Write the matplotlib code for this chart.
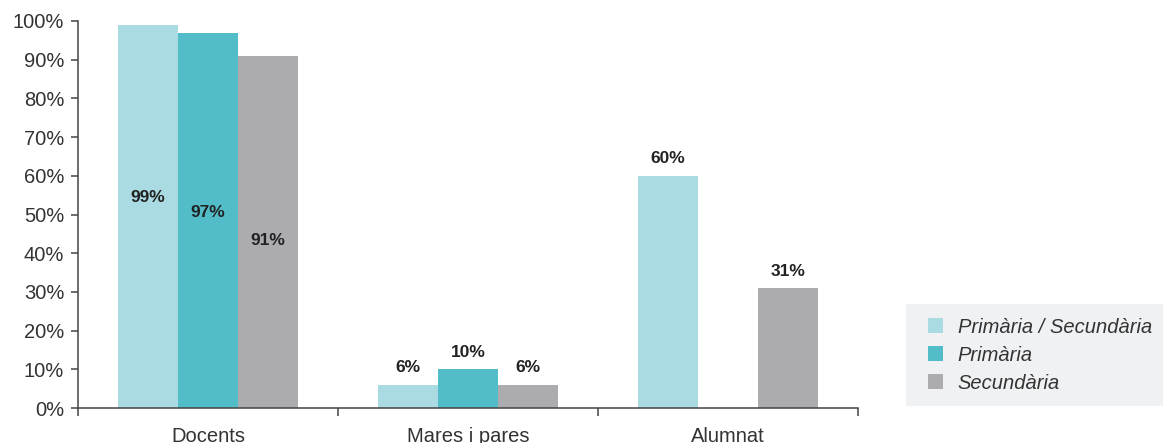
import numpy as np
import matplotlib.pyplot as plt
from matplotlib.patches import Patch, Rectangle

plt.rcParams['font.family'] = ['Liberation Sans', 'DejaVu Sans']

# Dades
grups = ['Docents', 'Mares i pares', 'Alumnat']
series = ['Primària / Secundària', 'Primària', 'Secundària']
prim_sec = [99, 6, 60]
primaria = [97, 10, np.nan]
secundaria = [91, 6, 31]
colors = ['#aadbe2', '#52bdc9', '#acacb0']

# Posició de les etiquetes dins les barres (només Docents)
dins = {0: [54.3, 50.4, 43.4]}

text_color = '#333333'
fig = plt.figure(figsize=(11.63, 4.43), dpi=100)
ax = fig.add_axes([0.0671, 0.079, 0.6707, 0.8736])

x = np.arange(len(grups))
w = 0.231
valors = [prim_sec, primaria, secundaria]
for i, (vals, col) in enumerate(zip(valors, colors)):
    pos = x + (i - 1) * w
    ax.bar(pos, vals, width=w, color=col, zorder=2)
    for g, v in enumerate(vals):
        if np.isnan(v):
            continue
        y = dins[g][i] if g in dins else v + 4.4
        ax.text(pos[g], y, f'{v:.0f}%', ha='center', va='center',
                fontsize=12.5, fontweight='bold', color='#222222')

ax.set_xlim(-0.5, 2.5)
ax.set_ylim(0, 100)
ax.set_yticks(range(0, 101, 10))
ax.set_yticklabels([f'{t}%' for t in range(0, 101, 10)], fontsize=14.5, color=text_color)
ax.set_xticks(x)
ax.set_xticklabels(grups, fontsize=14.5, color=text_color)
ax.set_xticks([-0.5, 0.5, 1.5, 2.5], minor=True)
ax.tick_params(axis='x', which='major', length=0, pad=14)
ax.tick_params(axis='x', which='minor', length=6, width=1.1, color='#444444', direction='out')
ax.tick_params(axis='y', length=5, width=1.1, color='#444444', pad=5)
for s in ['top', 'right']:
    ax.spines[s].set_visible(False)
for s in ['left', 'bottom']:
    ax.spines[s].set_color('#444444')
    ax.spines[s].set_linewidth(1.1)

# Llegenda
fig.add_artist(Rectangle((0.779, 0.0835), 0.221, 0.2305, transform=fig.transFigure,
                         facecolor='#f0f1f3', edgecolor='none'))
handles = [Patch(facecolor=c, edgecolor='none') for c in colors]
leg = fig.legend(handles, series, loc='center left', bbox_to_anchor=(0.782, 0.198),
                 frameon=False, handlelength=0.75, handleheight=0.75, handletextpad=0.75,
                 labelspacing=0.45, prop={'size': 14.5, 'style': 'italic'})
for t in leg.get_texts():
    t.set_color(text_color)

fig.savefig('out.png', dpi=100)
